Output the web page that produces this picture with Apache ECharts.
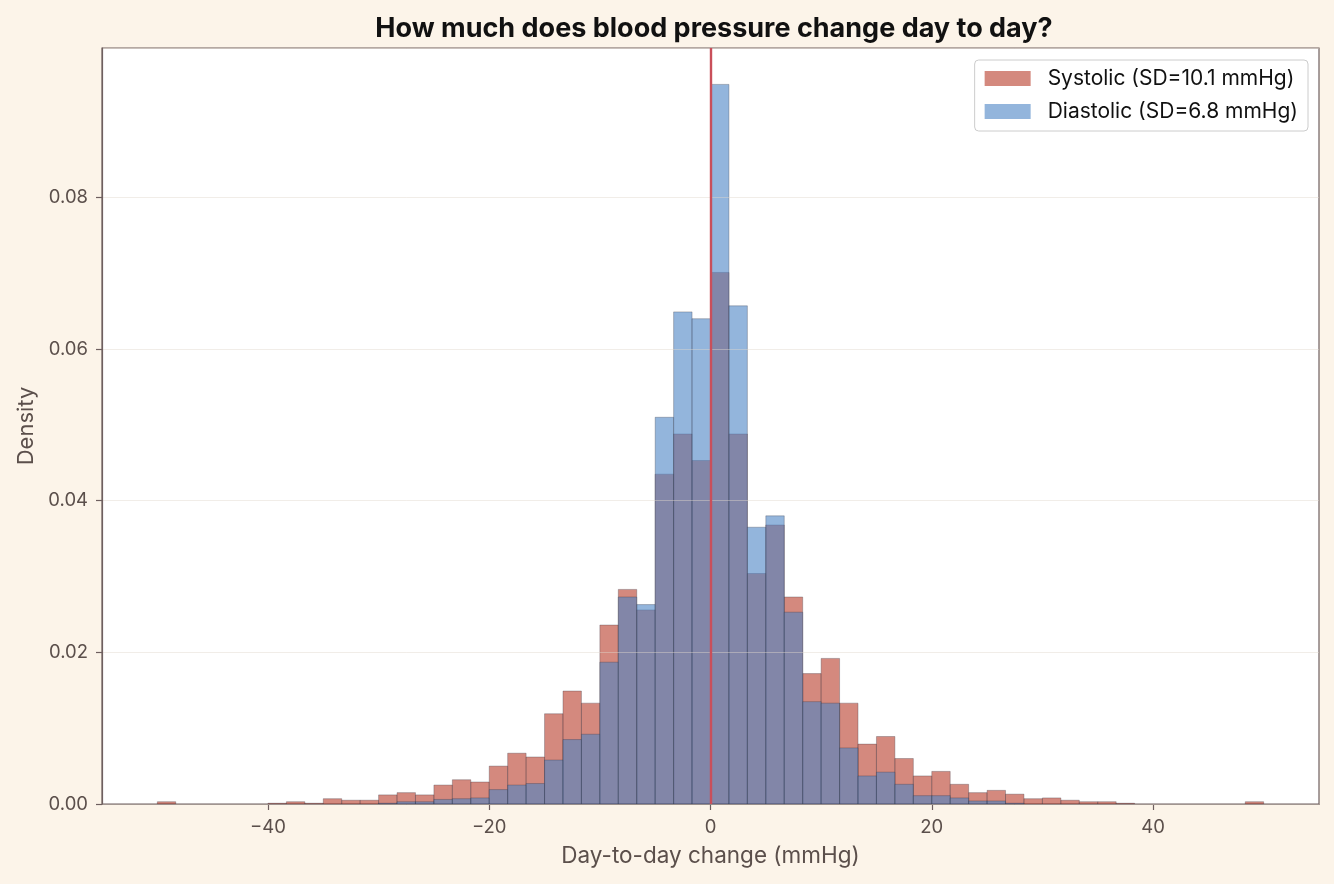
<!DOCTYPE html>
<html lang="en">
<head>
<meta charset="UTF-8">
<title>Blood pressure day-to-day change</title>
<script src="https://cdn.jsdelivr.net/npm/echarts@6/dist/echarts.min.js"></script>
<style>
  html, body { margin: 0; padding: 0; background: #fcf4e9; }
  #main { width: 1334px; height: 884px; }
</style>
</head>
<body>
<div id="main"></div>
<script>
// histogram bins: 60 bins of width 5/3 from -50 to 50
var binStart = -50;
var binWidth = 5 / 3;

// density per bin
var systolic = [
  0.0003, 0, 0, 0, 0, 0, 0.0001, 0.0003, 0.0001, 0.0007,
  0.0005, 0.0005, 0.0012, 0.0015, 0.0012, 0.0025, 0.0032, 0.0029, 0.0050, 0.0067,
  0.0062, 0.0119, 0.0149, 0.0133, 0.0236, 0.0283, 0.0256, 0.0435, 0.0488, 0.0453,
  0.0701, 0.0488, 0.0304, 0.0368, 0.0273, 0.0172, 0.0192, 0.0133, 0.0079, 0.0089,
  0.0060, 0.0037, 0.0043, 0.0026, 0.0015, 0.0018, 0.0013, 0.0007, 0.0008, 0.0005,
  0.0003, 0.0003, 0.0001, 0, 0, 0, 0, 0, 0, 0.0003
];
var diastolic = [
  0, 0, 0, 0, 0, 0, 0, 0, 0, 0,
  0, 0, 0.0001, 0.0003, 0.0003, 0.0006, 0.0007, 0.0008, 0.0019, 0.0025,
  0.0027, 0.0058, 0.0085, 0.0092, 0.0187, 0.0273, 0.0263, 0.0510, 0.0649, 0.0640,
  0.0949, 0.0657, 0.0365, 0.0380, 0.0253, 0.0135, 0.0133, 0.0074, 0.0037, 0.0042,
  0.0026, 0.0011, 0.0011, 0.0008, 0.0004, 0.0004, 0.0001, 0, 0, 0,
  0, 0, 0, 0, 0, 0, 0, 0, 0, 0
];
var seriesNames = ['Systolic (SD=10.1 mmHg)', 'Diastolic (SD=6.8 mmHg)'];
var xTicks = [-40, -20, 0, 20, 40];

var textColor = '#5b4f4b';
var spineColor = '#6e5f5f';

function toBins(values) {
  var out = [];
  for (var i = 0; i < values.length; i++) {
    var x0 = binStart + i * binWidth;
    out.push([x0, x0 + binWidth, values[i]]);
  }
  return out;
}

function histRender(fill) {
  return function (params, api) {
    var h = api.value(2);
    if (!h) return null;
    var p0 = api.coord([api.value(0), h]);
    var p1 = api.coord([api.value(1), 0]);
    return {
      type: 'rect',
      shape: { x: p0[0], y: p0[1], width: p1[0] - p0[0], height: p1[1] - p0[1] },
      style: { fill: fill, stroke: 'rgba(50,50,65,0.5)', lineWidth: 0.6 }
    };
  };
}

function minus(v) {
  return String(v).replace('-', '\u2212');
}

var chart = echarts.init(document.getElementById('main'));
chart.setOption({
  backgroundColor: '#fcf4e9',
  animation: false,
  textStyle: { fontFamily: 'Inter, "Noto Sans", sans-serif' },
  title: {
    text: 'How much does blood pressure change day to day?',
    left: 709,
    textAlign: 'center',
    top: 10,
    textStyle: { fontSize: 27, fontWeight: 'bold', color: '#111111', fontFamily: 'Inter, sans-serif' }
  },
  legend: {
    right: 26,
    top: 60,
    orient: 'vertical',
    icon: 'rect',
    itemWidth: 46,
    itemHeight: 15,
    itemGap: 10,
    padding: [7, 10, 8, 10],
    backgroundColor: '#ffffff',
    borderColor: '#cccccc',
    borderWidth: 1,
    borderRadius: 4,
    textStyle: { fontSize: 21, lineHeight: 23, color: '#111111', padding: [0, 0, 0, 12] },
    data: seriesNames
  },
  grid: {
    left: 102, right: 15, top: 48, bottom: 80,
    show: true,
    backgroundColor: '#ffffff',
    borderColor: spineColor,
    borderWidth: 1.2
  },
  xAxis: {
    type: 'value',
    min: -55,
    max: 55,
    name: 'Day-to-day change (mmHg)',
    nameLocation: 'middle',
    nameGap: 41,
    nameTextStyle: { fontSize: 22.5, color: textColor },
    axisLine: { show: true, onZero: false, lineStyle: { color: spineColor, width: 1.2 } },
    axisTick: { show: true, length: 6, lineStyle: { color: spineColor, width: 1.2 }, customValues: xTicks },
    axisLabel: { fontSize: 18.5, color: textColor, margin: 14, customValues: xTicks, formatter: minus },
    splitLine: { show: false }
  },
  yAxis: {
    type: 'value',
    min: 0,
    max: 0.0997,
    interval: 0.02,
    z: 5,
    name: 'Density',
    nameLocation: 'middle',
    nameGap: 64,
    nameTextStyle: { fontSize: 22, color: textColor },
    axisLine: { show: true, onZero: false, lineStyle: { color: spineColor, width: 1.2 } },
    axisTick: { show: true, length: 6, lineStyle: { color: spineColor, width: 1.2 } },
    axisLabel: {
      fontSize: 18.5, color: textColor, margin: 14, showMaxLabel: false,
      formatter: function (v) { return v.toFixed(2); }
    },
    splitLine: { show: true, lineStyle: { color: 'rgba(225,215,205,0.45)', width: 1 } }
  },
  series: [
    {
      name: seriesNames[0],
      type: 'custom',
      renderItem: histRender('rgba(183,58,40,0.6)'),
      itemStyle: { color: 'rgba(183,58,40,0.6)' },
      encode: { x: [0, 1], y: 2 },
      data: toBins(systolic),
      z: 2
    },
    {
      name: seriesNames[1],
      type: 'custom',
      renderItem: histRender('rgba(75,132,197,0.6)'),
      itemStyle: { color: 'rgba(75,132,197,0.6)' },
      encode: { x: [0, 1], y: 2 },
      data: toBins(diastolic),
      z: 3,
      markLine: {
        silent: true,
        symbol: 'none',
        label: { show: false },
        lineStyle: { color: '#c94f5a', width: 2.4, type: 'solid' },
        data: [{ xAxis: 0 }],
        z: 10
      }
    }
  ]
});
</script>
</body>
</html>
